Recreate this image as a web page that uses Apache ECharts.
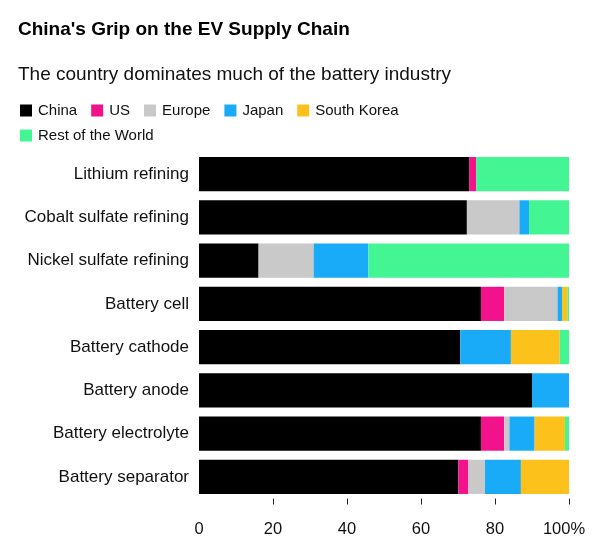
<!DOCTYPE html>
<html><head><meta charset="utf-8">
<script src="https://cdn.jsdelivr.net/npm/echarts@6/dist/echarts.min.js"></script>
<style>html,body{margin:0;padding:0;background:#fff}#c{width:605px;height:547px}</style>
</head><body><div id="c"></div>
<script>
var categories = ["Lithium refining","Cobalt sulfate refining","Nickel sulfate refining","Battery cell","Battery cathode","Battery anode","Battery electrolyte","Battery separator"];
var china  = [73, 72.4, 16.1, 76.2, 70.6, 90, 76.2, 70.1];
var us     = [1.9, 0, 0, 6.3, 0, 0, 6.3, 2.7];
var europe = [0, 14.2, 14.9, 14.4, 0, 0, 1.4, 4.5];
var japan  = [0, 2.6, 14.8, 1.2, 13.7, 10, 6.8, 9.7];
var korea  = [0, 0, 0, 1.5, 13.2, 0, 8.2, 13.0];
var rest   = [25.1, 10.8, 54.2, 0.4, 2.5, 0, 1.1, 0];
var xTicks = [0, 20, 40, 60, 80, 100];

var names = ["China","US","Europe","Japan","South Korea","Rest of the World"];
var colors = ["#000000","#f2128c","#c9c9c9","#19aaf8","#fcc21b","#43f593"];
var values = [china, us, europe, japan, korea, rest];
var font = "'Liberation Sans', Arial, sans-serif";

var chart = echarts.init(document.getElementById('c'), null, {renderer:'canvas'});
chart.setOption({
  animation:false,
  backgroundColor:'#fff',
  color: colors,
  title:[
    {text:"China's Grip on the EV Supply Chain", left:18, top:20, padding:0,
     textStyle:{fontFamily:font, fontSize:19, fontWeight:'bold', color:'#000'}},
    {text:"The country dominates much of the battery industry", left:18, top:65, padding:0,
     textStyle:{fontFamily:font, fontSize:19, fontWeight:'normal', color:'#111'}}
  ],
  legend:[
    {data:names.slice(0,5), left:20, top:103, padding:0, itemWidth:12, itemHeight:12, itemGap:14,
     icon:'rect', textStyle:{fontFamily:font, fontSize:15, color:'#111', padding:[0,0,0,1]}},
    {data:names.slice(5), left:20, top:128, padding:0, itemWidth:12, itemHeight:12,
     icon:'rect', textStyle:{fontFamily:font, fontSize:15, color:'#111', padding:[0,0,0,1]}}
  ],
  grid:{left:199, right:36, top:152.5, bottom:48.5, containLabel:false},
  xAxis:{type:'value', min:xTicks[0], max:xTicks[xTicks.length-1], interval:20,
    splitLine:{show:false}, axisLine:{show:false},
    axisTick:{show:true, length:6, lineStyle:{color:'#222'}, customValues:xTicks.slice(1)},
    axisLabel:{fontFamily:font, fontSize:16.5, color:'#111', margin:22,
      formatter:function(v){ return v===100 ? '{p|100%}' : String(v); },
      rich:{p:{fontFamily:font, fontSize:16.5, color:'#111', padding:[0,10,0,0]}}}
  },
  yAxis:{type:'category', data:categories, inverse:true,
    axisLine:{show:false}, axisTick:{show:false},
    axisLabel:{fontFamily:font, fontSize:17, color:'#111', margin:10}
  },
  series: names.map(function(n,i){
    return {name:n, type:'bar', stack:'total', data:values[i], barCategoryGap:'21%',
      itemStyle:{color:colors[i]}};
  })
});
</script></body></html>
